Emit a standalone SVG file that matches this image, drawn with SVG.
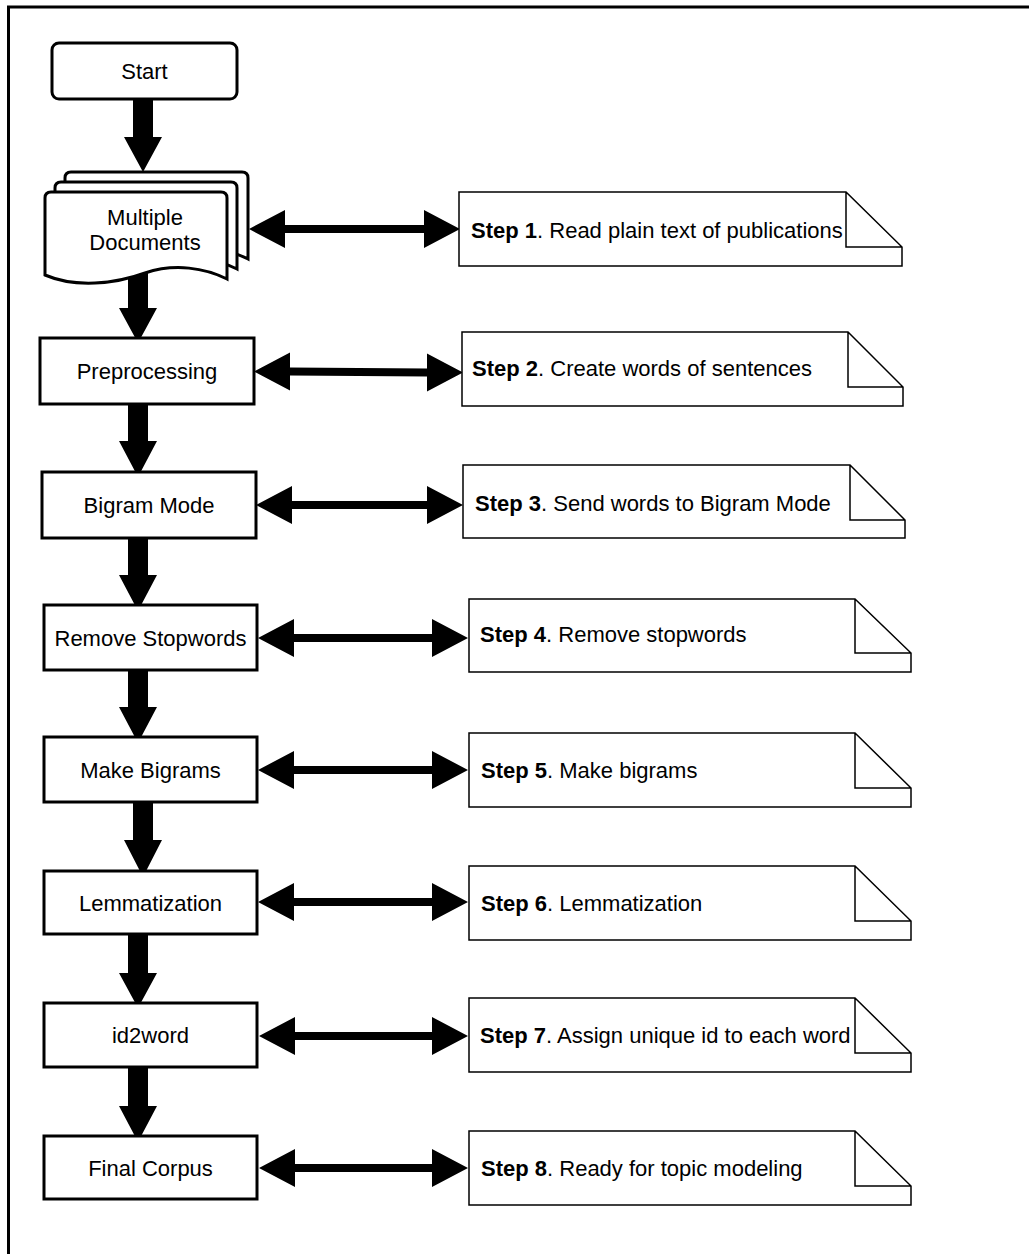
<svg xmlns="http://www.w3.org/2000/svg" width="1029" height="1254" viewBox="0 0 1029 1254">
<style>
.node{fill:#fff;stroke:#000;stroke-width:3}
.note{fill:#fff;stroke:#000;stroke-width:1.5}
.lbl{font-family:"Liberation Sans",Arial,sans-serif;font-size:22px;fill:#000;text-anchor:middle}
.ntxt{font-family:"Liberation Sans",Arial,sans-serif;font-size:22px;fill:#000}
.b{font-weight:bold}
.arr{fill:#000;stroke:none}
</style>
<rect x="8.5" y="7" width="1100" height="1300" fill="#fff" stroke="#000" stroke-width="3"/>
<g id="connectors">
<polygon class="arr" points="133,99 153,99 153,137 162,137 143,172 124,137 133,137"/>
<polygon class="arr" points="128,272 148,272 148,308 157,308 138,343 119,308 128,308"/>
<polygon class="arr" points="128,404 148,404 148,441 157,441 138,477 119,441 128,441"/>
<polygon class="arr" points="128,538 148,538 148,575 157,575 138,611 119,575 128,575"/>
<polygon class="arr" points="128,670 148,670 148,707 157,707 138,743 119,707 128,707"/>
<polygon class="arr" points="133,802 153,802 153,840 162,840 143,877 124,840 133,840"/>
<polygon class="arr" points="128,934 148,934 148,973 157,973 138,1008 119,973 128,973"/>
<polygon class="arr" points="128,1067 148,1067 148,1106 157,1106 138,1142 119,1106 128,1106"/>
<polygon class="arr" points="249,229 285,210 285,225 424,225 424,210 460,229 424,248 424,233 285,233 285,248"/>
<polygon class="arr" points="254,371.5 290,352.5 290,367.5 427,368.5 427,353.5 463,372.5 427,391.5 427,376.5 290,375.5 290,390.5"/>
<polygon class="arr" points="256,505 292,486 292,501 427,501 427,486 463,505 427,524 427,509 292,509 292,524"/>
<polygon class="arr" points="258,638 294,619 294,634 432,634 432,619 468,638 432,657 432,642 294,642 294,657"/>
<polygon class="arr" points="258,770 294,751 294,766 432,766 432,751 468,770 432,789 432,774 294,774 294,789"/>
<polygon class="arr" points="258,902 294,883 294,898 432,898 432,883 468,902 432,921 432,906 294,906 294,921"/>
<polygon class="arr" points="259,1036 295,1017 295,1032 432,1032 432,1017 468,1036 432,1055 432,1040 295,1040 295,1055"/>
<polygon class="arr" points="259,1168 295,1149 295,1164 432,1164 432,1149 468,1168 432,1187 432,1172 295,1172 295,1187"/>
</g>
<g id="start">
<rect class="node" x="52" y="43" width="185" height="56" rx="7"/>
<text class="lbl" x="144.5" y="79">Start</text>
</g>
<g id="documents">
<path class="node" d="M65,178 Q65,172 71,172 L242,172 Q248,172 248,178 L248,259 C226,248 196,243 166,253 C136,264 95,268 65,255 Z"/>
<path class="node" d="M55,188 Q55,182 61,182 L231,182 Q237,182 237,188 L237,269 C215,258 185,253 155,263 C125,274 85,278 55,265 Z"/>
<path class="node" d="M45,198 Q45,192 51,192 L221,192 Q227,192 227,198 L227,279 C205,268 175,263 145,273 C115,284 75,288 45,275 Z"/>
<text class="lbl" x="145" y="225">Multiple</text>
<text class="lbl" x="145" y="250">Documents</text>
</g>
<g id="preprocessing">
<rect class="node" x="40" y="338" width="214" height="66"/>
<text class="lbl" x="147" y="379">Preprocessing</text>
</g>
<g id="bigram-mode">
<rect class="node" x="42" y="472" width="214" height="66"/>
<text class="lbl" x="149" y="513">Bigram Mode</text>
</g>
<g id="remove-stopwords">
<rect class="node" x="44" y="605" width="213" height="65"/>
<text class="lbl" x="150.5" y="646">Remove Stopwords</text>
</g>
<g id="make-bigrams">
<rect class="node" x="44" y="737" width="213" height="65"/>
<text class="lbl" x="150.5" y="778">Make Bigrams</text>
</g>
<g id="lemmatization">
<rect class="node" x="44" y="871" width="213" height="63"/>
<text class="lbl" x="150.5" y="911">Lemmatization</text>
</g>
<g id="id2word">
<rect class="node" x="44" y="1003" width="213" height="64"/>
<text class="lbl" x="150.5" y="1043">id2word</text>
</g>
<g id="final-corpus">
<rect class="node" x="44" y="1136" width="213" height="63"/>
<text class="lbl" x="150.5" y="1176">Final Corpus</text>
</g>
<g id="step1">
<path class="note" d="M459,192 L846,192 L902,247 L902,266 L459,266 Z M846,192 L846,247 L902,247"/>
<text class="ntxt" x="471" y="238"><tspan class="b">Step 1</tspan>. Read plain text of publications</text>
</g>
<g id="step2">
<path class="note" d="M462,332 L848,332 L903,387 L903,406 L462,406 Z M848,332 L848,387 L903,387"/>
<text class="ntxt" x="472" y="376"><tspan class="b">Step 2</tspan>. Create words of sentences</text>
</g>
<g id="step3">
<path class="note" d="M463,465 L850,465 L905,520 L905,538 L463,538 Z M850,465 L850,520 L905,520"/>
<text class="ntxt" x="475" y="511"><tspan class="b">Step 3</tspan>. Send words to Bigram Mode</text>
</g>
<g id="step4">
<path class="note" d="M469,599 L855,599 L911,653 L911,672 L469,672 Z M855,599 L855,653 L911,653"/>
<text class="ntxt" x="480" y="642"><tspan class="b">Step 4</tspan>. Remove stopwords</text>
</g>
<g id="step5">
<path class="note" d="M469,733 L855,733 L911,788 L911,807 L469,807 Z M855,733 L855,788 L911,788"/>
<text class="ntxt" x="481" y="778"><tspan class="b">Step 5</tspan>. Make bigrams</text>
</g>
<g id="step6">
<path class="note" d="M469,866 L855,866 L911,921 L911,940 L469,940 Z M855,866 L855,921 L911,921"/>
<text class="ntxt" x="481" y="911"><tspan class="b">Step 6</tspan>. Lemmatization</text>
</g>
<g id="step7">
<path class="note" d="M469,998 L855,998 L911,1053 L911,1072 L469,1072 Z M855,998 L855,1053 L911,1053"/>
<text class="ntxt" x="480" y="1043"><tspan class="b">Step 7</tspan>. Assign unique id to each word</text>
</g>
<g id="step8">
<path class="note" d="M469,1131 L855,1131 L911,1186 L911,1205 L469,1205 Z M855,1131 L855,1186 L911,1186"/>
<text class="ntxt" x="481" y="1176"><tspan class="b">Step 8</tspan>. Ready for topic modeling</text>
</g>
</svg>
